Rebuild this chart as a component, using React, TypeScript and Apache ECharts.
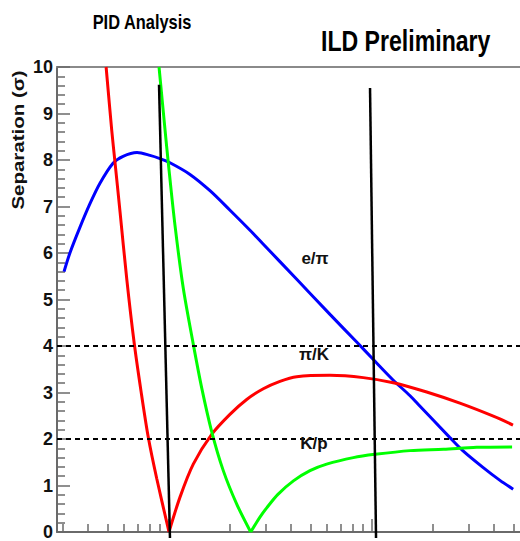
import React, { useEffect, useRef } from "react";
import * as echarts from "echarts";

// Momentum (GeV, log axis) and separation (sigma)
const momentumEPi = [0.304, 0.325, 0.364, 0.408, 0.457, 0.53, 0.594, 0.696, 0.806, 0.903, 1.011, 1.269, 1.592, 1.998, 2.506, 2.9, 4.27, 6.21, 8.43, 10.1, 12.7, 15.4, 17.2, 24.2, 28.0, 35.2, 42.7, 49.6];
const sepEPi = [5.6, 6.0, 6.55, 7.06, 7.5, 7.93, 8.08, 8.16, 8.1, 8.03, 7.94, 7.69, 7.34, 6.92, 6.49, 6.2, 5.43, 4.68, 4.08, 3.72, 3.27, 2.93, 2.71, 2.03, 1.75, 1.39, 1.11, 0.92];

const momentumPiKLow = [0.49, 0.522, 0.542, 0.574, 0.619, 0.673, 0.728, 0.791, 0.87, 1.0];
const sepPiKLow = [10.0, 8.65, 7.95, 6.88, 5.45, 4.08, 3.03, 2.03, 1.15, 0];
const momentumPiKHigh = [1.0, 1.133, 1.317, 1.623, 1.996, 2.414, 2.914, 3.52, 4.256, 6.21, 9.06, 12.73, 18.6, 27.1, 39.6, 49.5];
const sepPiKHigh = [0, 0.75, 1.46, 2.1, 2.53, 2.85, 3.08, 3.24, 3.34, 3.37, 3.32, 3.21, 3.01, 2.77, 2.49, 2.3];

const momentumKpLow = [0.893, 0.956, 0.992, 1.07, 1.176, 1.317, 1.449, 1.623, 1.851, 2.156, 2.526];
const sepKpLow = [10.0, 8.65, 7.94, 6.6, 5.24, 4.04, 3.1, 2.16, 1.32, 0.6, 0];
const momentumKpHigh = [2.526, 2.806, 3.03, 3.44, 4.1, 4.95, 5.98, 8.09, 10.35, 15.4, 22.5, 32.8, 49.0];
const sepKpHigh = [0, 0.32, 0.52, 0.81, 1.1, 1.32, 1.46, 1.6, 1.67, 1.75, 1.78, 1.82, 1.83];

// hand-drawn black cut lines (momentum, separation)
const cutLineLowMomentum = [0.893, 1.011];
const cutLineLowSep = [9.62, -0.13];
const cutLineHighMomentum = [9.78, 10.47];
const cutLineHighSep = [9.55, -0.13];

const thresholdLevels = [4, 2];

const xMinorTicks = [0.3, 0.4, 0.5, 0.6, 0.7, 0.8, 0.9, 2, 3, 4, 5, 6, 7, 8, 9, 20, 30, 40, 50];
const xMajorTicks = [1, 10];
const xMin = 0.2807;
const xMax = 53.6;

const curveLabels = ["e/π", "π/K", "K/p"];

const FONT = "'Liberation Sans', Arial, Helvetica, sans-serif";

const zip = (xs: number[], ys: number[]) => xs.map((x, i) => [x, ys[i]]);

export default function App() {
  const ref = useRef<HTMLDivElement>(null);
  useEffect(() => {
    if (!ref.current) return;
    const chart = echarts.init(ref.current, undefined, { renderer: "svg" });
    const axisColor = "#6a6a6a";
    const curve = (name: string, data: number[][], color: string) => ({
      name,
      type: "line",
      data,
      xAxisIndex: 0,
      yAxisIndex: 0,
      showSymbol: false,
      symbol: "none",
      smooth: 0.3,
      lineStyle: { color, width: 3 },
      silent: true,
      z: 3,
    });
    chart.setOption({
      animation: false,
      grid: { left: 57, top: 67, right: 0, bottom: 6, containLabel: false },
      xAxis: [
        {
          type: "log",
          min: xMin,
          max: xMax,
          position: "bottom",
          axisLine: { show: true, onZero: false, lineStyle: { color: axisColor, width: 2 } },
          axisTick: { show: true, inside: true, length: 8, customValues: xMinorTicks, lineStyle: { color: axisColor, width: 1.5 } },
          axisLabel: { show: false },
          splitLine: { show: false },
        },
        {
          type: "log",
          min: xMin,
          max: xMax,
          position: "bottom",
          axisLine: { show: false, onZero: false },
          axisTick: { show: true, inside: true, length: 13, customValues: xMajorTicks, lineStyle: { color: axisColor, width: 1.5 } },
          axisLabel: { show: false },
          splitLine: { show: false },
        },
        {
          type: "log",
          min: xMin,
          max: xMax,
          position: "top",
          axisLine: { show: true, onZero: false, lineStyle: { color: "#8a8a8a", width: 2 } },
          axisTick: { show: false },
          axisLabel: { show: false },
          splitLine: { show: false },
        },
      ],
      yAxis: {
        type: "value",
        min: 0,
        max: 10,
        interval: 1,
        axisLine: { show: true, lineStyle: { color: axisColor, width: 2 } },
        axisTick: { show: true, inside: true, length: 13, lineStyle: { color: axisColor, width: 1.5 } },
        minorTick: { show: true, splitNumber: 5, length: 8, lineStyle: { color: axisColor, width: 1.5 } },
        axisLabel: { color: "#111", fontFamily: FONT, fontWeight: "bold", fontSize: 18, margin: 4 },
        splitLine: { show: false },
        minorSplitLine: { show: false },
      },
      series: [
        curve("e/π", zip(momentumEPi, sepEPi), "#0000ff"),
        curve("π/K low", zip(momentumPiKLow, sepPiKLow), "#ff0000"),
        curve("π/K high", zip(momentumPiKHigh, sepPiKHigh), "#ff0000"),
        curve("K/p low", zip(momentumKpLow, sepKpLow), "#00ff00"),
        curve("K/p high", zip(momentumKpHigh, sepKpHigh), "#00ff00"),
        {
          name: "cut low",
          type: "line",
          data: zip(cutLineLowMomentum, cutLineLowSep),
          symbol: "none",
          clip: false,
          silent: true,
          lineStyle: { color: "#000", width: 2.5 },
          z: 4,
        },
        {
          name: "cut high",
          type: "line",
          data: zip(cutLineHighMomentum, cutLineHighSep),
          symbol: "none",
          clip: false,
          silent: true,
          lineStyle: { color: "#000", width: 2.5 },
          z: 4,
          markLine: {
            silent: true,
            symbol: ["none", "none"],
            label: { show: false },
            lineStyle: { color: "#000", type: [5, 4], width: 2 },
            data: thresholdLevels.map((v) => ({ yAxis: v })),
          },
        },
      ],
      graphic: [
        {
          type: "text",
          x: 142,
          y: 22,
          scaleX: 0.82,
          style: { text: "PID Analysis", font: `bold 20px ${FONT}`, fill: "#000", align: "center", verticalAlign: "middle" },
          z: 10,
        },
        {
          type: "text",
          x: 321,
          y: 41,
          scaleX: 0.77,
          style: { text: "ILD Preliminary", font: `bold 30px ${FONT}`, fill: "#000", align: "left", verticalAlign: "middle" },
          z: 10,
        },
        {
          type: "text",
          x: 18,
          y: 140,
          rotation: Math.PI / 2,
          scaleX: 1.28,
          style: { text: "Separation (σ)", font: `bold 16px ${FONT}`, fill: "#111", align: "center", verticalAlign: "middle" },
          z: 10,
        },
        {
          type: "text",
          x: 315,
          y: 258,
          style: { text: curveLabels[0], font: `bold 17px ${FONT}`, fill: "#111", align: "center", verticalAlign: "middle" },
          z: 10,
        },
        {
          type: "text",
          x: 314,
          y: 354,
          style: { text: curveLabels[1], font: `bold 17px ${FONT}`, fill: "#111", align: "center", verticalAlign: "middle" },
          z: 10,
        },
        {
          type: "text",
          x: 314,
          y: 443,
          style: { text: curveLabels[2], font: `bold 17px ${FONT}`, fill: "#111", align: "center", verticalAlign: "middle" },
          z: 10,
        },
      ],
    });
    return () => chart.dispose();
  }, []);
  return (
    <div
      ref={ref}
      style={{ position: "absolute", left: 0, top: 0, width: 520, height: 541, background: "#fff" }}
    />
  );
}
